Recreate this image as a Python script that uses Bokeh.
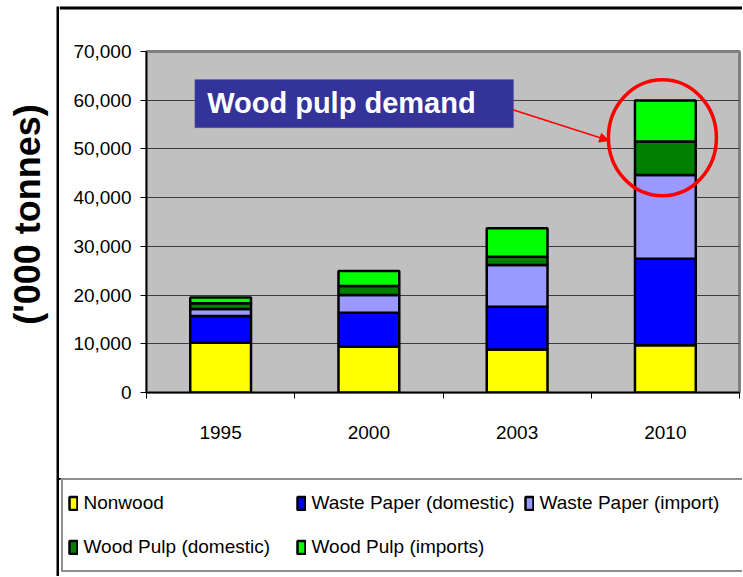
import math
from bokeh.plotting import figure
from bokeh.layouts import row, column
from bokeh.models import (ColumnDataSource, Range1d, FixedTicker, NumeralTickFormatter,
                          Legend, LegendItem, BoxAnnotation, Label, Arrow, NormalHead)
from bokeh.embed import file_html
from bokeh.resources import INLINE

# ---------------- data ----------------
years = ["1995", "2000", "2003", "2010"]
series = ["Nonwood", "Waste Paper (domestic)", "Waste Paper (import)",
          "Wood Pulp (domestic)", "Wood Pulp (imports)"]
nonwood = [10190, 9370, 8840, 9720]
waste_paper_domestic = [5530, 6990, 8750, 17740]
waste_paper_import = [1440, 3640, 8570, 17200]
wood_pulp_domestic = [1150, 1850, 1710, 6840]
wood_pulp_imports = [1210, 3080, 5830, 8430]
colors = ["#ffff00", "#0000ff", "#9999ff", "#008000", "#00ff00"]
y_ticks = [0, 10000, 20000, 30000, 40000, 50000, 60000, 70000]
callout_text = "Wood pulp demand"
y_title = "('000 tonnes)"

SANS = "Liberation Sans"
TXT = "19px"
W, H = 742, 576
LEFT_W = 56          # y-title column
COL_W = W - LEFT_W - 3
TOP_H = 20           # strip holding the frame's top rule
CHART_H = 478 - TOP_H

centers = [i + 0.5 for i in range(len(years))]
bounds = [float(i) for i in range(len(years) + 1)]


def blank(w, h, fill, top=0):
    return figure(width=w, height=h, x_axis_type=None, y_axis_type=None,
                  output_backend="svg", toolbar_location=None, min_border=0,
                  min_border_top=top,
                  x_range=Range1d(0, 1), y_range=Range1d(0, 1),
                  background_fill_color=fill, border_fill_color="white",
                  outline_line_color=None, frame_align=False)


# ---------------- y title panel ----------------
tfig = blank(LEFT_W, H, "white")
tfig.add_layout(Label(x=27, y=H - 214, x_units="screen", y_units="screen", text=y_title,
                      angle=math.pi / 2, text_align="center", text_baseline="middle",
                      text_font=SANS, text_font_style="bold", text_font_size="36px",
                      text_color="black"))

# ---------------- top rule ----------------
topfig = blank(COL_W, TOP_H, "white")
topfig.add_layout(BoxAnnotation(top=1 - 6 / TOP_H, bottom=1 - 9 / TOP_H,
                                fill_color="black", fill_alpha=1.0, line_color=None))

# ---------------- chart ----------------
keys = ["nonwood", "wpd", "wpi", "wood_d", "wood_i"]
src = ColumnDataSource(dict(x=centers, nonwood=nonwood, wpd=waste_paper_domestic,
                            wpi=waste_paper_import, wood_d=wood_pulp_domestic,
                            wood_i=wood_pulp_imports))

p = figure(width=COL_W, height=CHART_H, x_range=Range1d(bounds[0], bounds[-1]),
           y_range=Range1d(y_ticks[0], y_ticks[-1]),
           output_backend="svg", toolbar_location=None, frame_align=False,
           min_border_left=87, min_border_right=3, min_border_top=51 - TOP_H,
           min_border_bottom=86, background_fill_color="#c0c0c0",
           border_fill_color="white")
p.outline_line_color = "#808080"
p.outline_line_width = 3

rs = p.vbar_stack(keys, x="x", width=0.41, source=src, fill_color=colors,
                  line_color="black", line_width=2.5)

p.xaxis.ticker = FixedTicker(ticks=centers, minor_ticks=bounds)
p.xaxis.major_label_overrides = {c: y for c, y in zip(centers, years)}
p.xaxis.major_tick_line_color = None
p.xaxis.major_tick_out = 0
p.xaxis.major_tick_in = 0
p.xaxis.minor_tick_line_color = "black"
p.xaxis.minor_tick_out = 6
p.xaxis.minor_tick_in = 0
p.xaxis.major_label_standoff = 27
p.xaxis.major_label_text_font = SANS
p.xaxis.major_label_text_font_size = TXT
p.xaxis.major_label_text_color = "black"
p.xaxis.axis_line_color = "black"
p.xaxis.axis_line_width = 1.5

p.yaxis.ticker = FixedTicker(ticks=y_ticks)
p.yaxis.formatter = NumeralTickFormatter(format="0,0")
p.yaxis.major_tick_out = 6
p.yaxis.major_tick_in = 0
p.yaxis.minor_tick_line_color = None
p.yaxis.major_tick_line_color = "black"
p.yaxis.major_label_standoff = 9
p.yaxis.major_label_text_font = SANS
p.yaxis.major_label_text_font_size = TXT
p.yaxis.major_label_text_color = "black"
p.yaxis.axis_line_color = "black"
p.yaxis.axis_line_width = 1.5

p.xgrid.visible = False
p.ygrid.ticker = FixedTicker(ticks=y_ticks)
p.ygrid.grid_line_color = "#3c3c3c"
p.ygrid.grid_line_width = 1

# callout
p.add_layout(BoxAnnotation(left=0.326, right=2.476, top=64250, bottom=54340,
                           fill_color="#333399", fill_alpha=1.0,
                           line_color="#5a5ab4", line_width=1))
p.add_layout(Label(x=0.409, y=59330, text=callout_text, text_color="white",
                   text_font=SANS, text_font_style="bold", text_font_size="29px",
                   text_baseline="middle"))
p.add_layout(Arrow(end=NormalHead(size=9, fill_color="red", line_color="red"),
                   x_start=2.471, y_start=58030, x_end=3.118, y_end=51730,
                   line_color="red", line_width=1.5))
wood_start = [a + b + c for a, b, c in zip(nonwood, waste_paper_domestic, waste_paper_import)]
wood_total = [a + b for a, b in zip(wood_pulp_domestic, wood_pulp_imports)]
p.ellipse(x=[centers[-1] - 0.02], y=[wood_start[-1] + wood_total[-1] / 2],
          width=108, height=116, width_units="screen", height_units="screen",
          fill_color=None, line_color="red", line_width=3.5)

# ---------------- legend panel ----------------
lfig = blank(COL_W, H - TOP_H - CHART_H, "white")
lfig.x_range = Range1d(1000, 1001)     # the stacked bars stay out of view
lfig.y_range = Range1d(-1e6 - 1, -1e6)  # only their legend swatches are shown
lrs = lfig.vbar_stack(keys, x="x", width=0.41, source=src, fill_color=colors,
                      line_color="black", line_width=2.5)
legend = Legend(items=[LegendItem(label=s, renderers=[r]) for s, r in zip(series, lrs)],
                location=(1.5, 4.3), orientation="horizontal", ncols=3,
                padding=5, spacing=8, margin=0,
                glyph_width=10, glyph_height=16, label_standoff=6,
                label_width=204, label_height=36,
                label_text_font=SANS, label_text_font_size=TXT,
                label_text_color="black",
                border_line_color="#202020", border_line_width=2,
                background_fill_color="white", background_fill_alpha=1.0)
lfig.add_layout(legend, "center")

layout = row(tfig, blank(3, H, "black", top=6),
             column(topfig, p, lfig))

open("out.html", "w").write(file_html(layout, INLINE))
